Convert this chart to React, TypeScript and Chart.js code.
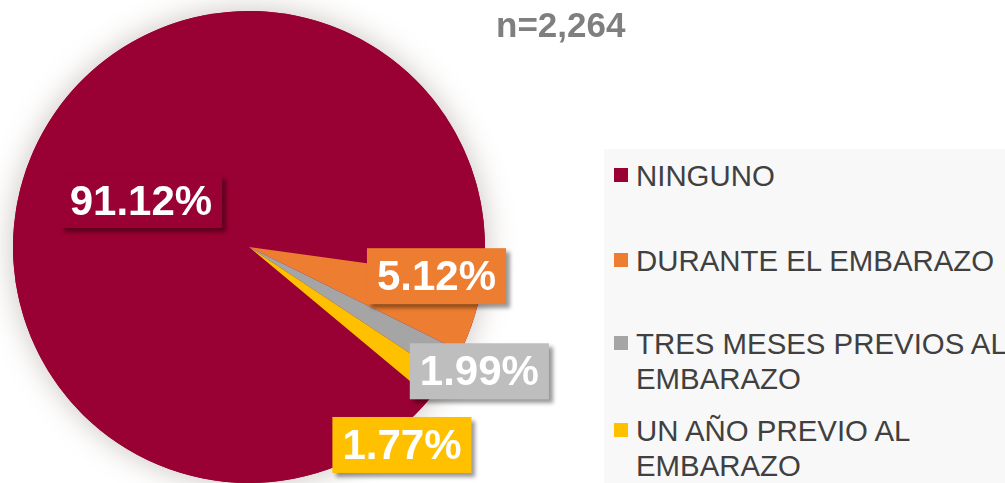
import React, { useEffect, useRef } from "react";
import { Chart, registerables } from "chart.js";

Chart.register(...registerables);

const categories: string[][] = [
  ["NINGUNO"],
  ["DURANTE EL EMBARAZO"],
  ["TRES MESES PREVIOS AL", "EMBARAZO"],
  ["UN AÑO PREVIO AL", "EMBARAZO"],
];
const values: number[] = [91.12, 5.12, 1.99, 1.77];
const valueLabels: string[] = ["91.12%", "5.12%", "1.99%", "1.77%"];
const sliceColors: string[] = ["#990033", "#ED7D31", "#A5A5A5", "#FFC000"];
const boxColors: string[] = ["#990033", "#ED7D31", "#BEBEBE", "#FFC000"];
// label placement relative to slice: [angle shift in degrees, radius factor]
const labelAngleShift: number[] = [-1.0, -8.2, -1.5, 15.7];
const labelRadiusFactor: number[] = [0.497, 0.804, 1.109, 1.06];
const sampleText = "n=2,264";

const FONT = "'Liberation Sans', Arial, sans-serif";

const glowPlugin = {
  id: "glow",
  beforeDatasetsDraw(chart: any) {
    const meta = chart.getDatasetMeta(0);
    const arc = meta.data[0];
    if (!arc) return;
    const { x, y, outerRadius } = arc.getProps(["x", "y", "outerRadius"], true);
    const ctx = chart.ctx;
    ctx.save();
    ctx.shadowColor = "rgba(120,105,90,0.4)";
    ctx.shadowBlur = 30;
    ctx.beginPath();
    ctx.arc(x, y, outerRadius, 0, Math.PI * 2);
    ctx.fillStyle = sliceColors[0];
    ctx.fill();
    ctx.restore();
  },
};

const labelPlugin = {
  id: "boxLabels",
  afterDatasetsDraw(chart: any) {
    const ctx = chart.ctx;
    const meta = chart.getDatasetMeta(0);
    meta.data.forEach((arc: any, i: number) => {
      const p = arc.getProps(["x", "y", "startAngle", "endAngle", "outerRadius"], true);
      const mid = (p.startAngle + p.endAngle) / 2 + (labelAngleShift[i] * Math.PI) / 180;
      const r = p.outerRadius * labelRadiusFactor[i];
      const cx = p.x + Math.cos(mid) * r;
      const cy = p.y + Math.sin(mid) * r;
      ctx.save();
      ctx.font = `bold 42px ${FONT}`;
      const tw = ctx.measureText(valueLabels[i]).width;
      const w = tw + 20;
      const h = i === 0 ? 53 : 56;
      const bx = cx - w / 2;
      const by = cy - h / 2;
      ctx.shadowColor = "rgba(0,0,0,0.4)";
      ctx.shadowBlur = 4;
      ctx.shadowOffsetX = 4;
      ctx.shadowOffsetY = 4;
      ctx.fillStyle = boxColors[i];
      ctx.fillRect(bx, by, w, h);
      ctx.shadowColor = "transparent";
      ctx.shadowBlur = 0;
      ctx.shadowOffsetX = 0;
      ctx.shadowOffsetY = 0;
      ctx.fillStyle = "#FFFFFF";
      ctx.textAlign = "center";
      ctx.textBaseline = "middle";
      ctx.fillText(valueLabels[i], cx, cy + 2);
      ctx.restore();
    });
  },
};

function PieChart() {
  const ref = useRef<HTMLCanvasElement | null>(null);
  useEffect(() => {
    if (!ref.current) return;
    const chart = new Chart(ref.current, {
      type: "pie",
      data: {
        labels: categories.map((c) => c.join(" ")),
        datasets: [
          {
            data: values,
            backgroundColor: sliceColors,
            borderWidth: 0,
          },
        ],
      },
      options: {
        animation: false,
        responsive: false,
        rotation: 129.8,
        layout: { padding: { left: 30, top: 30, bottom: 30, right: 118 } },
        plugins: {
          legend: { display: false },
          tooltip: { enabled: false },
        },
        events: [],
      },
      plugins: [glowPlugin, labelPlugin],
    });
    return () => chart.destroy();
  }, []);
  return (
    <canvas
      ref={ref}
      width={620}
      height={532}
      style={{ position: "absolute", left: -17, top: -19, width: 620, height: 532 }}
    />
  );
}

const legendTops: number[] = [157.5, 242.5, 325.5, 412.5];

export default function App() {
  return (
    <div
      style={{
        position: "fixed",
        left: 0,
        top: 0,
        width: 1005,
        height: 483,
        overflow: "hidden",
        background: "#FFFFFF",
        fontFamily: FONT,
      }}
    >
      <PieChart />
      <div
        style={{
          position: "absolute",
          left: 496,
          top: 5,
          fontSize: 35,
          fontWeight: "bold",
          color: "#7F7F7F",
          lineHeight: "40px",
          whiteSpace: "nowrap",
        }}
      >
        {sampleText}
      </div>
      <div
        style={{
          position: "absolute",
          left: 604,
          top: 149,
          width: 401,
          height: 334,
          background: "#F8F8F8",
        }}
      />
      {categories.map((lines, i) => (
        <div
          key={i}
          style={{
            position: "absolute",
            left: 614,
            top: legendTops[i],
            whiteSpace: "nowrap",
          }}
        >
          <div
            style={{
              position: "absolute",
              left: 0,
              top: 10,
              width: 14,
              height: 14,
              background: sliceColors[i],
            }}
          />
          <div
            style={{
              position: "absolute",
              left: 22,
              top: 0,
              fontSize: 29.4,
              lineHeight: "35px",
              color: "#404040",
            }}
          >
            {lines.map((l, j) => (
              <div key={j}>{l}</div>
            ))}
          </div>
        </div>
      ))}
    </div>
  );
}
